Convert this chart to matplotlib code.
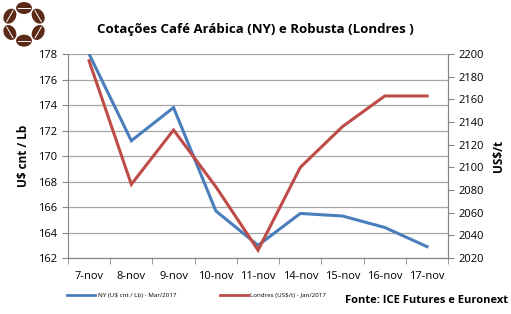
import numpy as np
import matplotlib.pyplot as plt
from matplotlib.patches import Ellipse
from matplotlib.lines import Line2D

# Data
dias = ["7-nov", "8-nov", "9-nov", "10-nov", "11-nov", "14-nov", "15-nov", "16-nov", "17-nov"]
ny = [178.0, 171.2, 173.8, 165.7, 163.0, 165.5, 165.3, 164.4, 162.9]
londres = [2194, 2085, 2133, 2083, 2027, 2100, 2136, 2163, 2163]

plt.rcParams['font.family'] = ['Open Sans', 'DejaVu Sans']

blue = '#4a7ebb'
red = '#be4b48'
grid = '#a6a6a6'

fig = plt.figure(figsize=(5.11, 3.14), dpi=100)
ax = fig.add_axes([0.133, 0.178, 0.744, 0.65])
ax2 = ax.twinx()

x = np.arange(len(dias))
ax.plot(x, ny, color=blue, lw=2.2, solid_joinstyle='miter', zorder=3)
ax2.plot(x, londres, color=red, lw=2.2, solid_joinstyle='miter', zorder=3)

ax.set_xlim(-0.5, len(dias) - 0.5)
ax.set_ylim(162, 178)
ax.set_yticks(np.arange(162, 179, 2))
ax2.set_ylim(2020, 2200)
ax2.set_yticks(np.arange(2020, 2201, 20))

ax.set_xticks(x)
ax.set_xticklabels(dias, fontsize=8)
ax.set_xticks(np.arange(-0.5, len(dias), 1), minor=True)
ax.tick_params(axis='x', which='major', length=0, pad=9)
ax.tick_params(axis='x', which='minor', length=4, color='#868686')
ax.tick_params(axis='y', labelsize=8, length=4, color='#868686')
ax2.tick_params(axis='y', labelsize=8, length=4, color='#868686')

ax.yaxis.grid(True, color=grid, lw=0.9)
ax.set_axisbelow(True)
for a in (ax, ax2):
    a.spines['top'].set_visible(False)
    for s in ('left', 'right', 'bottom'):
        a.spines[s].set_color('#868686')
ax2.spines['left'].set_visible(False)
ax2.set_zorder(ax.get_zorder() + 1)
ax2.patch.set_visible(False)

ax.set_ylabel("U$ cnt / Lb", fontsize=8.5, fontweight='bold', labelpad=6)
ax2.set_ylabel("US$/t", fontsize=8.5, fontweight='bold', labelpad=6)

fig.text(0.5, 0.905, "Cotações Café Arábica (NY) e Robusta (Londres )",
         ha='center', va='center', fontsize=9.5, fontweight='bold')

# legend
handles = [Line2D([], [], color=blue, lw=2), Line2D([], [], color=red, lw=2)]
fig.legend(handles, ["NY (U$ cnt / Lb) - Mar/2017", "Londres (US$/t) - Jan/2017"],
           loc='center', bbox_to_anchor=(0.385, 0.06), ncol=2, frameon=False,
           fontsize=4.5, handlelength=4.5, columnspacing=7, handletextpad=0.4)

fig.text(0.995, 0.025, "Fonte: ICE Futures e Euronext", ha='right', va='bottom',
         fontsize=8, fontweight='bold')

# coffee bean logo
lax = fig.add_axes([0.0, 0.845, 0.094, 0.155])
lax.set_xlim(-1, 1)
lax.set_ylim(-1, 1)
lax.set_aspect('equal')
lax.axis('off')
for k in range(6):
    ang = np.pi / 2 + k * np.pi / 3
    cx, cy = 0.68 * np.cos(ang), 0.68 * np.sin(ang)
    lax.add_patch(Ellipse((cx, cy), 0.6, 0.44, angle=np.degrees(ang) + 90,
                          color='#5b2a17'))
    dx, dy = 0.26 * np.cos(ang + np.pi / 2), 0.26 * np.sin(ang + np.pi / 2)
    lax.plot([cx - dx, cx + dx], [cy - dy, cy + dy], color='white', lw=0.7)

fig.savefig("out.png", dpi=100)
